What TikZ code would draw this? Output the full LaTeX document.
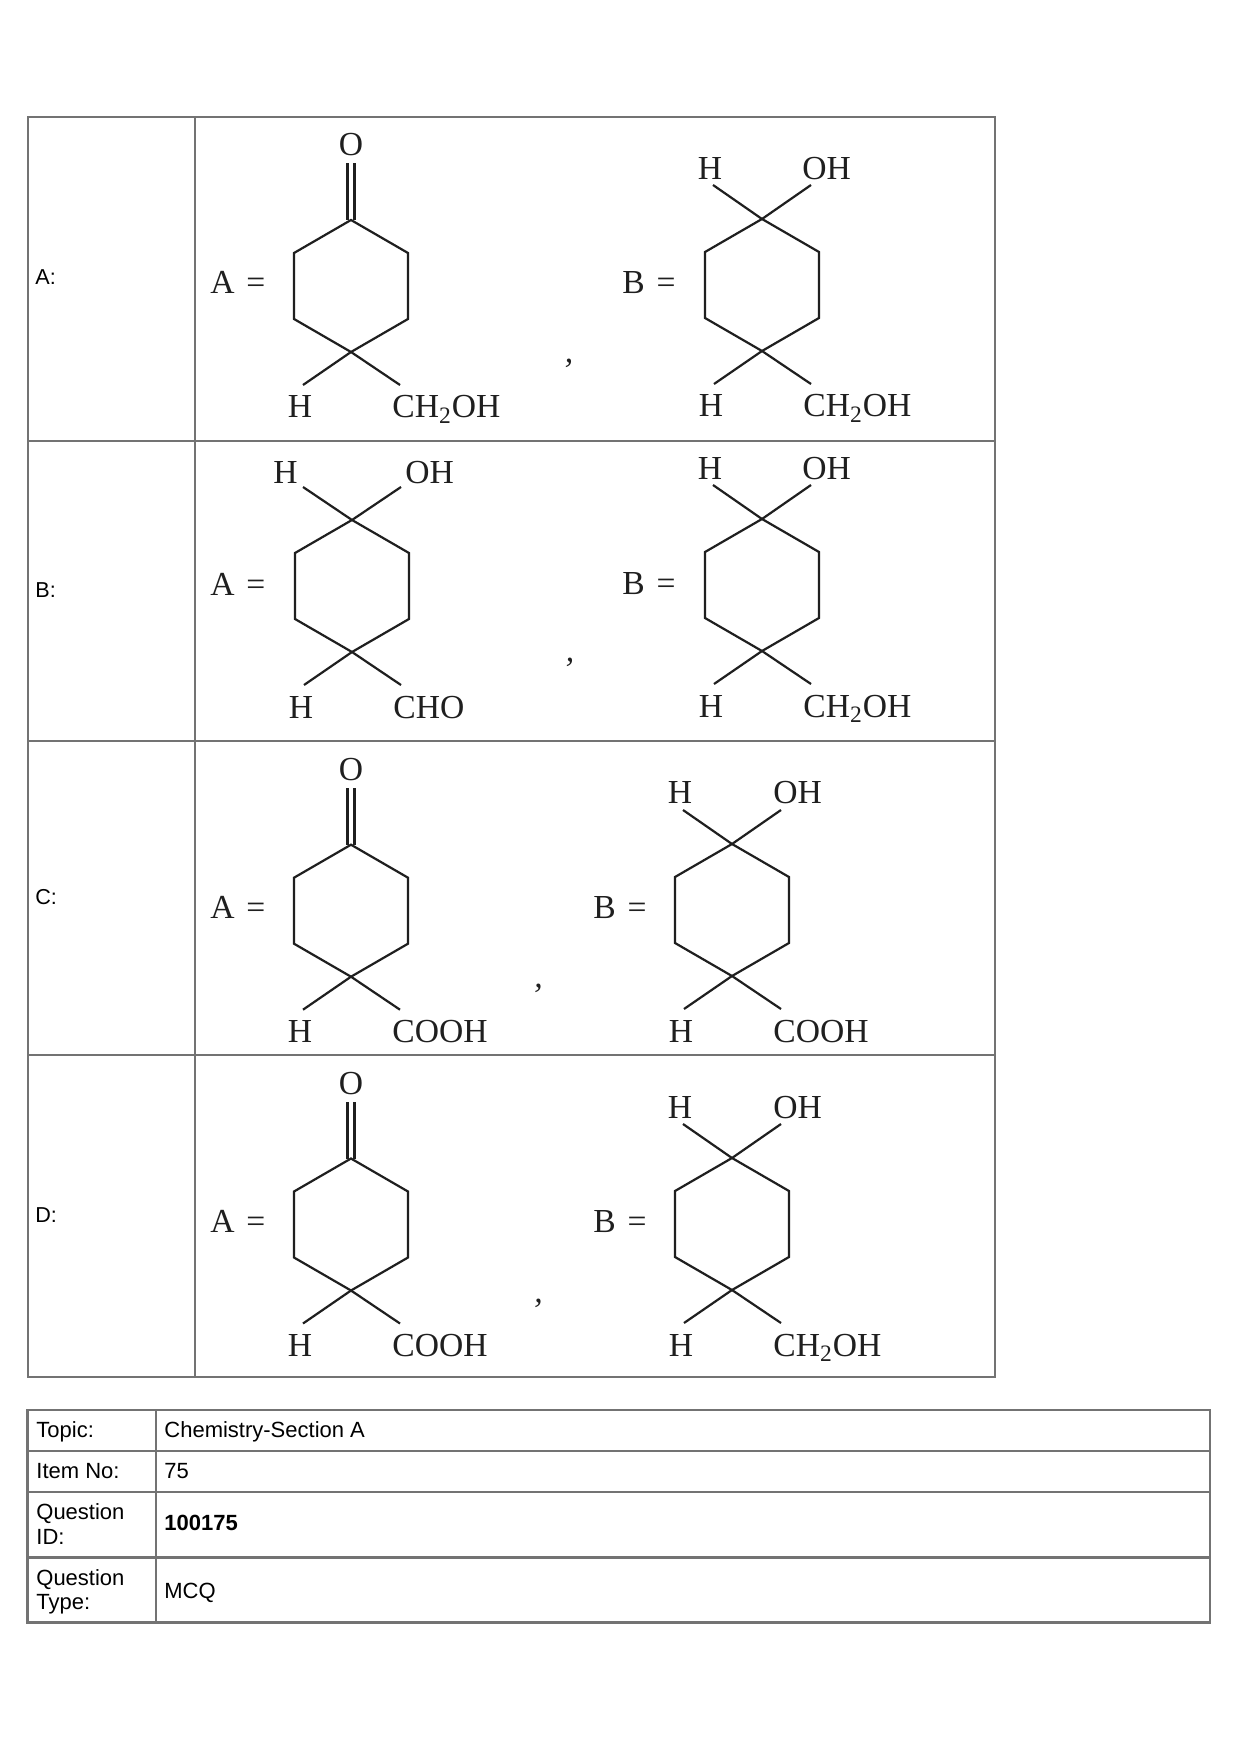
\documentclass[tikz,border=0pt]{standalone}
\usepackage{fontspec}
\setmainfont{Liberation Serif}
\newfontfamily\arialf{Liberation Sans}
% ring: name, cx, cy
\newcommand\hexring[3]{%
  \coordinate (#1t) at (#2,#3-66);
  \coordinate (#1ur) at (#2+57,#3-33);
  \coordinate (#1lr) at (#2+57,#3+33);
  \coordinate (#1b) at (#2,#3+66);
  \coordinate (#1ll) at (#2-57,#3+33);
  \coordinate (#1ul) at (#2-57,#3-33);
  \draw[bond] (#1t) -- (#1ur) -- (#1lr) -- (#1b) -- (#1ll) -- (#1ul) -- cycle;}
% ketone: name, cx, cy
\newcommand\ketone[3]{%
  \node[chem, anchor=base] (#1O) at (#2,#3-130) {O};
  \coordinate (#1Ob) at (#2,#3-123);
  \draw[bond] ([xshift=-1.75pt]#1t) -- ([xshift=-1.75pt]#1Ob);
  \draw[bond] ([xshift=1.75pt]#1t) -- ([xshift=1.75pt]#1Ob);}
% lower substituents: name, cx, cy, right text
\newcommand\lowsub[4]{%
  \coordinate (#1hl) at (#2-48,#3+99);
  \coordinate (#1hr) at (#2+49,#3+99);
  \draw[bond] (#1hl) -- (#1b) -- (#1hr);
  \node[chem, anchor=base] (#1Hb) at (#2-51,#3+132) {H};
  \node[chem, anchor=base west] (#1Rb) at (#2+41,#3+132) {#4};}
% upper substituents: name, cx, cy, H centre offset, OH left offset, baseline offset, bond end dy
\newcommand\upsub[7]{%
  \coordinate (#1al) at (#2-49,#3#7);
  \coordinate (#1ar) at (#2+49,#3#7);
  \draw[bond] (#1al) -- (#1t) -- (#1ar);
  \node[chem, anchor=base] (#1Ha) at (#2#4,#3#6) {H};
  \node[chem, anchor=base west] (#1Ra) at (#2#5,#3#6) {OH};}
\begin{document}
\begin{tikzpicture}[x=0.5pt,y=-0.5pt,
  bond/.style={line width=1.1pt, draw=black!88, line join=miter},
  grid/.style={line width=1.1pt, draw=black!55},
  chem/.style={inner sep=0pt, font=\fontsize{16.8}{19}\selectfont, text=black!88},
  lab/.style={inner sep=0pt, font=\arialf\fontsize{10.8}{12.5}\selectfont},
  cell/.style={inner sep=0pt, font=\arialf\fontsize{11}{12.5}\selectfont}]
\useasboundingbox[fill=white] (0,0) rectangle (1240,1754);

% ---------- top table ----------
\draw[grid] (28,117) rectangle (995,1377);
\draw[grid] (195,117) -- (195,1377);
\draw[grid] (28,441) -- (995,441);
\draw[grid] (28,741) -- (995,741);
\draw[grid] (28,1055) -- (995,1055);

\node[lab, anchor=base west] (la) at (35,285) {A:};
\node[lab, anchor=base west] (lb) at (35,597) {B:};
\node[lab, anchor=base west] (lc) at (35,904) {C:};
\node[lab, anchor=base west] (ld) at (35,1222) {D:};

% ---------- row A ----------
\node[chem, anchor=base west] (eqa1) at (210,294) {A\hspace{0.35em}=};
\hexring{ra}{351}{286}
\ketone{ra}{351}{286}
\lowsub{ra}{351}{286}{CH\textsubscript{2}OH}
\node[chem] (ca) at (569,363) {\itshape ,};
\node[chem, anchor=base west] (eqa2) at (622,293.3) {B\hspace{0.35em}=};
\hexring{rb}{762}{285}
\upsub{rb}{762}{285}{-52}{+40}{-105}{-100}
\lowsub{rb}{762}{285}{CH\textsubscript{2}OH}

% ---------- row B ----------
\node[chem, anchor=base west] (eqb1) at (210,595) {A\hspace{0.35em}=};
\hexring{sa}{352}{586}
\upsub{sa}{352}{586}{-66.5}{+53}{-103}{-99}
\lowsub{sa}{352}{586}{CHO}
\node[chem] (cb) at (570,662) {\itshape ,};
\node[chem, anchor=base west] (eqb2) at (622,594) {B\hspace{0.35em}=};
\hexring{sb}{762}{585}
\upsub{sb}{762}{585}{-52}{+40}{-105}{-100}
\lowsub{sb}{762}{585}{CH\textsubscript{2}OH}

% ---------- row C ----------
\node[chem, anchor=base west] (eqc1) at (210,918) {A\hspace{0.35em}=};
\hexring{ta}{351}{910.7}
\ketone{ta}{351}{910.7}
\lowsub{ta}{351}{910.7}{COOH}
\node[chem] (cc) at (538.5,988) {\itshape ,};
\node[chem, anchor=base west] (eqc2) at (593,918) {B\hspace{0.35em}=};
\hexring{tb}{732}{910}
\upsub{tb}{732}{910}{-52}{+41}{-107}{-100}
\lowsub{tb}{732}{910}{COOH}

% ---------- row D ----------
\node[chem, anchor=base west] (eqd1) at (210,1232) {A\hspace{0.35em}=};
\hexring{ua}{351}{1224.5}
\ketone{ua}{351}{1224.5}
\lowsub{ua}{351}{1224.5}{COOH}
\node[chem] (cd) at (538.5,1303) {\itshape ,};
\node[chem, anchor=base west] (eqd2) at (593,1232) {B\hspace{0.35em}=};
\hexring{ub}{732}{1224}
\upsub{ub}{732}{1224}{-52}{+41}{-106}{-100}
\lowsub{ub}{732}{1224}{CH\textsubscript{2}OH}

% ---------- bottom table ----------
\draw[grid] (27.5,1410) rectangle (1210,1622.5);
\draw[grid] (156,1410) -- (156,1622.5);
\draw[grid] (27.5,1451) -- (1210,1451);
\draw[grid] (27.5,1492) -- (1210,1492);
\draw[grid] (27.5,1557.5) -- (1210,1557.5);

\node[cell, anchor=base west] (k1) at (36,1437.3) {Topic:};
\node[cell, anchor=base west] (v1) at (164,1437.3) {Chemistry-Section A};
\node[cell, anchor=base west] (k2) at (36,1478.3) {Item No:};
\node[cell, anchor=base west] (v2) at (164,1478.3) {75};
\node[cell, anchor=base west] (k3a) at (36,1519.3) {Question};
\node[cell, anchor=base west] (k3b) at (36,1544.3) {ID:};
\node[cell, anchor=base west] (v3) at (164,1530.3) {\bfseries 100175};
\node[cell, anchor=base west] (k4a) at (36,1585) {Question};
\node[cell, anchor=base west] (k4b) at (36,1609) {Type:};
\node[cell, anchor=base west] (v4) at (164,1598.3) {MCQ};
\end{tikzpicture}
\end{document}
